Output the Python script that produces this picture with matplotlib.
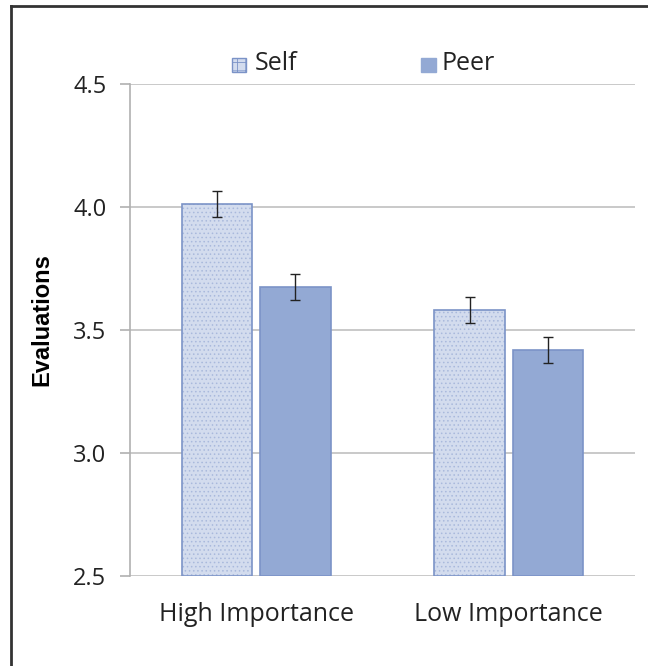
import matplotlib.pyplot as plt
import numpy as np
from matplotlib.patches import Rectangle

categories = ["High Importance", "Low Importance"]
self_means = [4.012, 3.580]
peer_means = [3.675, 3.418]
self_err = [0.053, 0.053]
peer_err = [0.053, 0.053]
yticks = [2.5, 3.0, 3.5, 4.0, 4.5]

plt.rcParams['font.family'] = ['Open Sans', 'DejaVu Sans']
plt.rcParams['hatch.linewidth'] = 0.6

fig = plt.figure(figsize=(6.48, 6.66), dpi=100)
ax = fig.add_axes([130 / 648, 1 - 576 / 666, 505 / 648, 492 / 666])

x = np.arange(len(categories))
w = 0.28
off = 0.155
edge = '#7b93c7'
self_col = '#d3dcee'
peer_col = '#93a9d4'
txt = '#222222'

# Self bars: dotted fill drawn first, outline on top
ax.bar(x - off, np.array(self_means) - 2.5, w, bottom=2.5, color=self_col,
       edgecolor='#a9b9dc', hatch='....', linewidth=0, zorder=2)
ax.bar(x - off, np.array(self_means) - 2.5, w, bottom=2.5, facecolor='none',
       edgecolor=edge, linewidth=1.2, zorder=3)
ax.bar(x + off, np.array(peer_means) - 2.5, w, bottom=2.5, color=peer_col,
       edgecolor=edge, linewidth=1.2, zorder=2)

ax.errorbar(x - off, self_means, yerr=self_err, fmt='none', ecolor=txt,
            elinewidth=1, capsize=3.5, capthick=1, zorder=4)
ax.errorbar(x + off, peer_means, yerr=peer_err, fmt='none', ecolor=txt,
            elinewidth=1, capsize=3.5, capthick=1, zorder=4)

ax.set_xlim(-0.5, 1.5)
ax.set_ylim(2.5, 4.5)
ax.set_yticks(yticks)
ax.set_yticklabels([f"{t:.1f}" for t in yticks], fontsize=17, color=txt)
ax.set_xticks(x)
ax.set_xticklabels(categories, fontsize=18, color=txt)
ax.tick_params(axis='x', length=0, pad=19)
ax.tick_params(axis='y', length=7, color='#b0b0b0', width=1.2, pad=10, direction='out')
ax.grid(axis='y', color='#c0c0c0', linewidth=1.2, zorder=0)
ax.set_axisbelow(True)
for s in ['top', 'right', 'bottom']:
    ax.spines[s].set_visible(False)
ax.spines['left'].set_color('#b0b0b0')
ax.spines['left'].set_linewidth(1.2)

ax.set_ylabel("Evaluations", fontsize=17, fontweight='bold',
              family=['Liberation Sans', 'DejaVu Sans'])
ax.yaxis.set_label_coords(-(130 - 53) / 505, (576 - 320) / 492)

# legend
fig.patches.append(Rectangle((232 / 648, 1 - 72 / 666), 14 / 648, 14 / 666,
                             transform=fig.transFigure, facecolor=self_col,
                             edgecolor=edge, hatch='++', linewidth=1))
fig.text(255 / 648, 1 - 63 / 666, "Self", fontsize=18, va='center', color=txt)
fig.patches.append(Rectangle((421 / 648, 1 - 72 / 666), 15 / 648, 14 / 666,
                             transform=fig.transFigure, facecolor=peer_col,
                             edgecolor=peer_col, linewidth=1))
fig.text(442 / 648, 1 - 63 / 666, "Peer", fontsize=18, va='center', color=txt)

# frame lines at top and left
fig.add_artist(plt.Line2D([11 / 648, 1], [1 - 6 / 666, 1 - 6 / 666],
                          transform=fig.transFigure, color='#333333', linewidth=2))
fig.add_artist(plt.Line2D([11 / 648, 11 / 648], [0, 1 - 6 / 666],
                          transform=fig.transFigure, color='#333333', linewidth=2))

fig.savefig("out.png", dpi=100)
